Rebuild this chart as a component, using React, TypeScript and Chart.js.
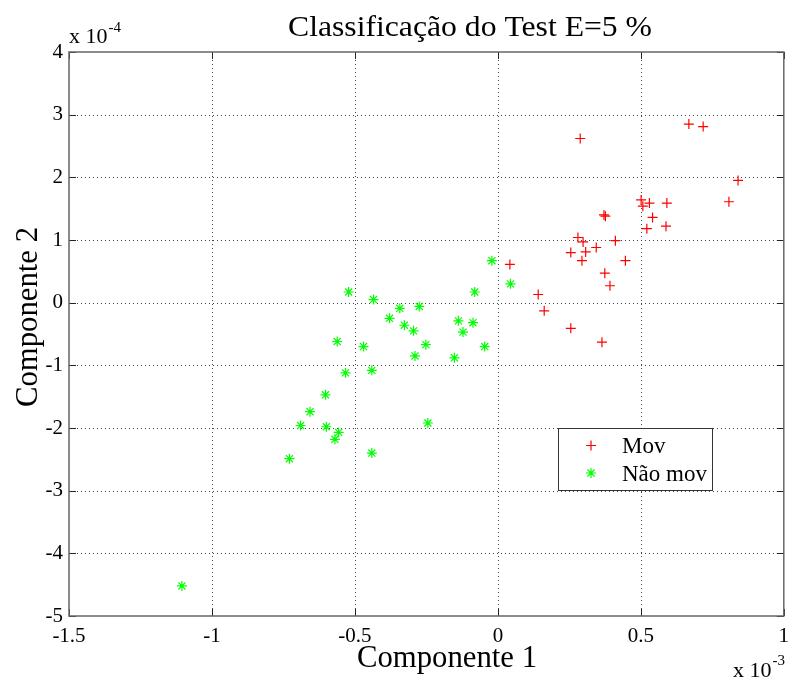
import React, { useEffect, useRef } from 'react';
import { Chart, registerables } from 'chart.js';

Chart.register(...registerables);

// Component values: x in units of 1e-3, y in units of 1e-4
const movX = [0.288, 0.668, 0.718, 0.84, 0.808, 0.501, 0.507, 0.53, 0.591, 0.541, 0.521, 0.588, 0.371, 0.376, 0.28, 0.298, 0.411, 0.344, 0.255, 0.307, 0.294, 0.446, 0.374, 0.392, 0.042, 0.141, 0.162, 0.255, 0.364];
const movY = [2.62, 2.85, 2.81, 1.95, 1.61, 1.64, 1.54, 1.59, 1.59, 1.36, 1.18, 1.22, 1.4, 1.38, 1.04, 0.97, 0.99, 0.88, 0.8, 0.81, 0.67, 0.67, 0.47, 0.27, 0.61, 0.13, -0.13, -0.41, -0.63];

const naoMovX = [-0.021, 0.044, -0.081, -0.522, -0.435, -0.343, -0.275, -0.379, -0.327, -0.295, -0.138, -0.087, -0.122, -0.046, -0.252, -0.29, -0.152, -0.562, -0.47, -0.533, -0.441, -0.603, -0.657, -0.69, -0.6, -0.557, -0.57, -0.245, -0.441, -0.729, -1.105];
const naoMovY = [0.67, 0.3, 0.17, 0.17, 0.05, -0.09, -0.06, -0.25, -0.36, -0.45, -0.29, -0.32, -0.47, -0.7, -0.67, -0.85, -0.88, -0.62, -0.7, -1.12, -1.08, -1.47, -1.74, -1.96, -1.98, -2.07, -2.18, -1.92, -2.4, -2.49, -4.52];

const xTicks = [-1.5, -1, -0.5, 0, 0.5, 1];
const yTicks = [-5, -4, -3, -2, -1, 0, 1, 2, 3, 4];

const seriesNames = ['Mov', 'Não mov'];
const titleText = 'Classificação do Test E=5 %';
const xTitle = 'Componente 1';
const yTitle = 'Componente 2';

const SERIF = "'Liberation Serif', 'Times New Roman', serif";
const RED = '#ff0000';
const GREEN = '#00ff00';

function drawPlus(ctx: CanvasRenderingContext2D, x: number, y: number, r: number, color: string) {
  ctx.save();
  ctx.strokeStyle = color;
  ctx.lineWidth = 1.2;
  ctx.beginPath();
  ctx.moveTo(x - r, y);
  ctx.lineTo(x + r, y);
  ctx.moveTo(x, y - r);
  ctx.lineTo(x, y + r);
  ctx.stroke();
  ctx.restore();
}

function drawStar(ctx: CanvasRenderingContext2D, x: number, y: number, r: number, color: string) {
  ctx.save();
  ctx.strokeStyle = color;
  ctx.lineWidth = 1.2;
  ctx.beginPath();
  for (let i = 0; i < 4; i++) {
    const a = (i * Math.PI) / 4;
    ctx.moveTo(x - r * Math.cos(a), y - r * Math.sin(a));
    ctx.lineTo(x + r * Math.cos(a), y + r * Math.sin(a));
  }
  ctx.stroke();
  ctx.restore();
}

// draws text horizontally stretched so it spans the given width
function fitText(ctx: CanvasRenderingContext2D, text: string, cx: number, y: number, width: number) {
  const w = ctx.measureText(text).width;
  ctx.save();
  ctx.translate(cx, y);
  ctx.scale(width / w, 1);
  ctx.textAlign = 'center';
  ctx.fillText(text, 0, 0);
  ctx.restore();
}

const framePlugin = {
  id: 'matlabFrame',
  beforeDatasetsDraw(chart: any) {
    const { ctx, chartArea: a, scales } = chart;
    ctx.save();
    ctx.strokeStyle = '#444';
    ctx.lineWidth = 1;
    ctx.setLineDash([1, 3]);
    xTicks.forEach((v) => {
      const px = Math.round(scales.x.getPixelForValue(v)) + 0.5;
      if (px < a.left + 2 || px > a.right - 2) return;
      ctx.beginPath();
      ctx.moveTo(px, a.top);
      ctx.lineTo(px, a.bottom);
      ctx.stroke();
    });
    yTicks.forEach((v) => {
      const py = Math.round(scales.y.getPixelForValue(v)) + 0.5;
      if (py < a.top + 2 || py > a.bottom - 2) return;
      ctx.beginPath();
      ctx.moveTo(a.left, py);
      ctx.lineTo(a.right, py);
      ctx.stroke();
    });
    ctx.restore();
  },
  afterDatasetsDraw(chart: any) {
    const { ctx, chartArea: a, scales } = chart;
    ctx.save();
    // inward tick marks on all four sides
    ctx.strokeStyle = '#222';
    ctx.lineWidth = 1;
    const tl = 7;
    xTicks.forEach((v) => {
      const px = Math.round(scales.x.getPixelForValue(v)) + 0.5;
      ctx.beginPath();
      ctx.moveTo(px, a.bottom);
      ctx.lineTo(px, a.bottom - tl);
      ctx.moveTo(px, a.top);
      ctx.lineTo(px, a.top + tl);
      ctx.stroke();
    });
    yTicks.forEach((v) => {
      const py = Math.round(scales.y.getPixelForValue(v)) + 0.5;
      ctx.beginPath();
      ctx.moveTo(a.left, py);
      ctx.lineTo(a.left + tl, py);
      ctx.moveTo(a.right, py);
      ctx.lineTo(a.right - tl, py);
      ctx.stroke();
    });
    // axes box
    ctx.strokeStyle = '#666';
    ctx.lineWidth = 1.5;
    ctx.strokeRect(a.left, a.top, a.right - a.left, a.bottom - a.top);

    // legend
    const lx = 558.5, ly = 428.5, lw = 154, lh = 62;
    ctx.fillStyle = '#fff';
    ctx.fillRect(lx, ly, lw, lh);
    ctx.strokeStyle = '#333';
    ctx.lineWidth = 1;
    ctx.strokeRect(lx, ly, lw, lh);
    drawPlus(ctx, 591, 445.5, 5, RED);
    drawStar(ctx, 591, 473, 5, GREEN);
    ctx.fillStyle = '#000';
    ctx.font = `23px ${SERIF}`;
    ctx.textAlign = 'left';
    ctx.textBaseline = 'alphabetic';
    ctx.fillText(seriesNames[0], 622, 453);
    ctx.fillText(seriesNames[1], 622, 481);
    ctx.restore();
  },
  afterDraw(chart: any) {
    const { ctx } = chart;
    ctx.save();
    ctx.fillStyle = '#000';
    ctx.textBaseline = 'alphabetic';

    // title
    ctx.font = `29px ${SERIF}`;
    fitText(ctx, titleText, 470, 36, 364);

    // axis titles
    ctx.font = `31px ${SERIF}`;
    fitText(ctx, xTitle, 447, 667, 180);
    ctx.save();
    ctx.translate(37, 317);
    ctx.rotate(-Math.PI / 2);
    fitText(ctx, yTitle, 0, 0, 180);
    ctx.restore();

    // exponent labels
    ctx.textAlign = 'left';
    ctx.font = `22px ${SERIF}`;
    ctx.fillText('x 10', 69, 43);
    let w = ctx.measureText('x 10').width;
    ctx.font = `15px ${SERIF}`;
    ctx.fillText('-4', 69 + w + 1, 32);

    ctx.font = `22px ${SERIF}`;
    ctx.fillText('x 10', 733, 677);
    w = ctx.measureText('x 10').width;
    ctx.font = `15px ${SERIF}`;
    ctx.fillText('-3', 733 + w + 1, 665);
    ctx.restore();
  },
};

export default function App() {
  const canvasRef = useRef<HTMLCanvasElement | null>(null);

  useEffect(() => {
    const canvas = canvasRef.current;
    if (!canvas) return;
    const movPoints = movX.map((x, i) => ({ x, y: movY[i] }));
    const naoMovPoints = naoMovX.map((x, i) => ({ x, y: naoMovY[i] }));

    const chart = new Chart(canvas, {
      type: 'scatter',
      data: {
        datasets: [
          {
            label: seriesNames[0],
            data: movPoints,
            pointStyle: 'cross',
            pointRadius: 5,
            borderColor: RED,
            backgroundColor: RED,
            borderWidth: 1.2,
          },
          {
            label: seriesNames[1],
            data: naoMovPoints,
            pointStyle: 'star',
            pointRadius: 5,
            borderColor: GREEN,
            backgroundColor: GREEN,
            borderWidth: 1.2,
          },
        ],
      },
      options: {
        responsive: false,
        animation: false,
        devicePixelRatio: 1,
        layout: { padding: { left: 0, right: 4, top: 52, bottom: 0 } },
        plugins: {
          legend: { display: false },
          tooltip: { enabled: false },
          title: { display: false },
        },
        scales: {
          x: {
            type: 'linear',
            position: 'bottom',
            min: -1.5,
            max: 1,
            grid: { display: false, drawTicks: false },
            border: { display: false },
            ticks: {
              stepSize: 0.5,
              padding: 8,
              color: '#000',
              font: { family: SERIF, size: 21 },
              callback: (v: any) => String(Math.round(Number(v) * 10) / 10),
            },
            afterFit: (s: any) => {
              s.height = 62;
              s.paddingLeft = 0;
              s.paddingRight = 0;
            },
          },
          y: {
            type: 'linear',
            position: 'left',
            min: -5,
            max: 4,
            grid: { display: false, drawTicks: false },
            border: { display: false },
            ticks: {
              stepSize: 1,
              padding: 6,
              color: '#000',
              font: { family: SERIF, size: 21 },
              callback: (v: any) => String(Math.round(Number(v))),
            },
            afterFit: (s: any) => {
              s.width = 69;
              s.paddingTop = 0;
              s.paddingBottom = 0;
            },
          },
        },
      },
      plugins: [framePlugin],
    });
    return () => chart.destroy();
  }, []);

  return (
    <div style={{ position: 'fixed', left: 0, top: 0, width: 790, height: 678, background: '#fff' }}>
      <canvas ref={canvasRef} width={790} height={678} style={{ display: 'block' }} />
    </div>
  );
}
